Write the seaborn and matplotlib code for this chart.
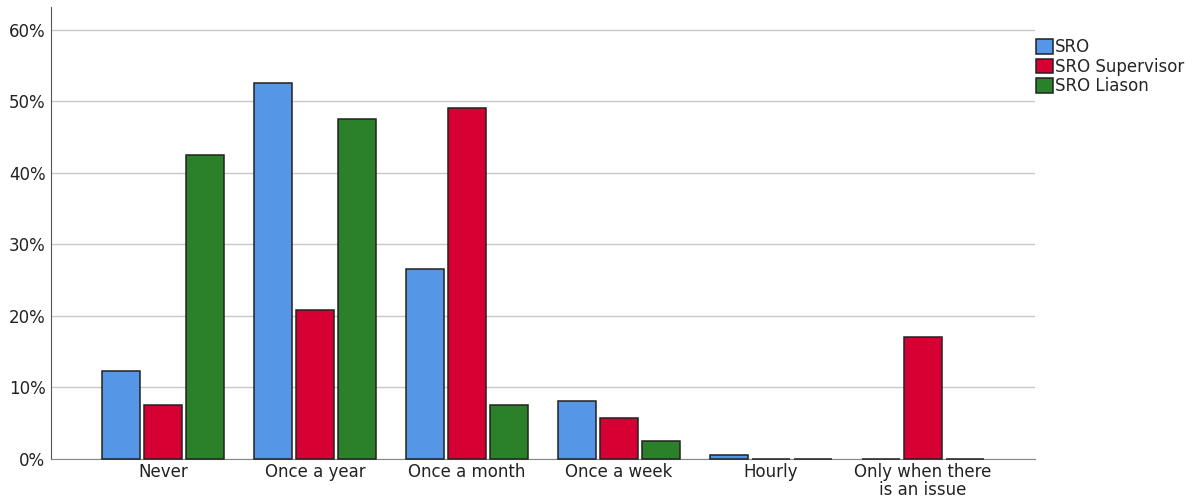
import pandas as pd
import matplotlib.pyplot as plt
import seaborn as sns

# values (percent)
categories = ["Never", "Once a year", "Once a month", "Once a week", "Hourly",
              "Only when there\nis an issue"]
sro = [12.3, 52.6, 26.6, 8.1, 0.5, 0.0]
sro_supervisor = [7.6, 20.8, 49.1, 5.7, 0.0, 17.0]
sro_liason = [42.5, 47.6, 7.6, 2.5, 0.0, 0.0]
groups = ["SRO", "SRO Supervisor", "SRO Liason"]
colors = ["#5596e6", "#d70032", "#2a8129"]

rows = []
for g, vals in zip(groups, [sro, sro_supervisor, sro_liason]):
    for c, v in zip(categories, vals):
        rows.append({"category": c, "group": g, "pct": v})
df = pd.DataFrame(rows)

sns.set_style("white")
plt.rcParams["font.family"] = ["DejaVu Sans"]

fig = plt.figure(figsize=(11.96, 5.01), dpi=100)
ax = fig.add_axes([51 / 1196, 1 - 459 / 501, 984 / 1196, 452 / 501])

sns.barplot(data=df, x="category", y="pct", hue="group", order=categories,
            hue_order=groups, palette=colors, saturation=1, edgecolor="#222222",
            linewidth=1.1, width=0.83, gap=0.095, ax=ax, zorder=3)
for p in ax.patches:
    p.set_clip_on(False)

ax.set_ylim(0, 63.2)
ax.set_xlim(-0.737, 5.737)
ax.set_yticks(range(0, 61, 10))
ax.set_yticklabels([f"{t}%" for t in range(0, 61, 10)], fontsize=12, color="#222222")
ax.tick_params(axis="x", labelsize=12, colors="#222222", length=0, pad=3)
ax.tick_params(axis="y", length=0, pad=4)
ax.set_xlabel("")
ax.set_ylabel("")
ax.yaxis.grid(True, color="#c8c8c8", linewidth=1)
ax.set_axisbelow(True)
for s in ["top", "right"]:
    ax.spines[s].set_visible(False)
ax.spines["left"].set_color("#555555")
ax.spines["bottom"].set_color("#888888")
for lbl in ax.get_xticklabels():
    lbl.set_linespacing(1.0)

ax.legend(loc="upper left", bbox_to_anchor=(1036 / 1196, 1 - 38 / 501),
          bbox_transform=fig.transFigure, frameon=False, fontsize=12,
          handlelength=1.0, handleheight=1.0, handletextpad=0.15,
          labelspacing=0.1, borderaxespad=0, borderpad=0)

fig.savefig("out.png", dpi=100)
